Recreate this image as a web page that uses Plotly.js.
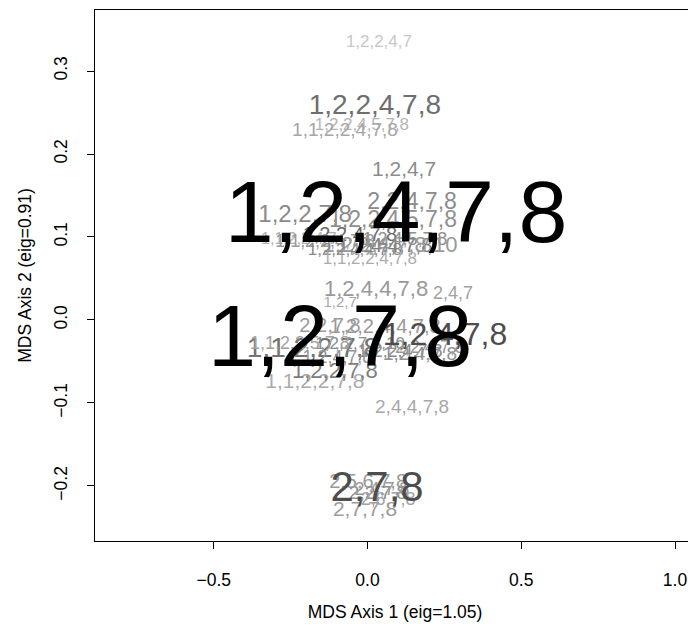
<!DOCTYPE html>
<html>
<head>
<meta charset="utf-8">
<script src="https://cdn.plot.ly/plotly-3.0.1.min.js"></script>
<style>
  html, body { margin: 0; padding: 0; background: #fff; overflow: hidden; }
  #chart { width: 720px; height: 628px; }
</style>
</head>
<body>
<div id="chart"></div>
<script>
// Genotype labels placed at their MDS coordinates
const labels = [
  "1,2,2,4,7", "1,2,2,4,7,8", "1,2,2,4,5,7,8", "1,1,2,2,4,7,8", "1,2,4,7",
  "2,2,4,7,8", "1,2,2,7,8", "1,2,2,4,5,7,8", "1,1,2,2,4,7", "1,2,2,4,7,8",
  "1,1,2,2,4,7,8", "1,2,4,4,7,8", "1,2,4,5,7,8", "1,2,2,4,7,8,10", "1,2,2,4,4,7,8",
  "1,1,2,2,4,7,8", "1,2,4,7,8",
  "1,2,4,4,7,8", "2,4,7", "1,2,7", "1,2,2,4,4,7,8", "2,2,7,8",
  "1,1,2,2,7,8", "1,1,2,2,7,8", "1,2,2,7,8", "2,4,4,7,8", "1,2,2,4,7,8",
  "1,1,2,4,7,8", "1,2,4,7,8", "1,2,2,7,8,10", "1,1,2,2,5,7,8", "2,2,4,7,8",
  "1,2,4,7,8", "1,2,7,8",
  "2,5,6,7,8", "2,2,7,8", "2,6,7,8", "2,4,7,8", "2,7,7,8", "2,7,8"
];
// MDS axis 1 scores
const axis1 = [
  0.037, 0.024, -0.018, -0.073, 0.119,
  0.145, -0.203, 0.083, -0.223, -0.057,
  -0.138, 0.057, 0.122, 0.073, -0.041,
  0.008, 0.093,
  0.028, 0.278, -0.089, 0.057, -0.122,
  -0.177, -0.171, -0.106, 0.145, 0.106,
  -0.122, 0.171, -0.024, -0.220, 0.203,
  0.252, -0.089,
  0.002, 0.034, 0.067, 0.047, -0.008, 0.031
];
// MDS axis 2 scores
const axis2 = [
  0.334, 0.257, 0.234, 0.228, 0.180,
  0.141, 0.125, 0.119, 0.096, 0.101,
  0.093, 0.088, 0.096, 0.089, 0.083,
  0.073, 0.120,
  0.036, 0.031, 0.020, -0.010, -0.008,
  -0.036, -0.076, -0.063, -0.106, -0.039,
  -0.046, -0.042, -0.030, -0.030, -0.034,
  -0.020, -0.029,
  -0.196, -0.210, -0.217, -0.206, -0.230, -0.205
];
// relative abundance of each genotype (drives label size)
const abundance = [
  1.06, 1.75, 1.06, 1.19, 1.31,
  1.44, 1.50, 1.44, 1.00, 1.25,
  1.12, 1.25, 1.12, 1.38, 1.06,
  1.06, 5.50,
  1.38, 1.12, 0.94, 1.25, 1.25,
  1.75, 1.31, 1.38, 1.19, 1.12,
  1.12, 1.19, 1.06, 1.12, 1.12,
  2.00, 5.40,
  1.25, 1.19, 1.12, 1.12, 1.31, 2.62
];
// frequency of each genotype (drives label darkness, 0 = white, 1 = black)
const frequency = [
  0.22, 0.57, 0.29, 0.35, 0.45,
  0.45, 0.46, 0.44, 0.31, 0.58,
  0.40, 0.52, 0.44, 0.40, 0.47,
  0.33, 1.00,
  0.40, 0.37, 0.34, 0.40, 0.39,
  0.55, 0.33, 0.51, 0.34, 0.46,
  0.42, 0.44, 0.45, 0.37, 0.40,
  0.70, 1.00,
  0.40, 0.44, 0.36, 0.40, 0.39, 0.70
];

const baseSize = 16;
const sizes = abundance.map(a => baseSize * a);
const colors = frequency.map(f => {
  const g = Math.round(255 * (1 - f));
  return `rgb(${g},${g},${g})`;
});

const trace = {
  type: "scatter",
  mode: "text",
  x: axis1,
  y: axis2,
  text: labels,
  textposition: "middle center",
  textfont: {
    family: "Liberation Sans, Arial, sans-serif",
    size: sizes,
    color: colors
  },
  hoverinfo: "none",
  showlegend: false,
  cliponaxis: false
};

const axisFont = { family: "Liberation Sans, Arial, sans-serif", size: 17.5, color: "#000" };

const layout = {
  width: 720,
  height: 628,
  margin: { l: 95, r: 25, t: 10, b: 87 },
  paper_bgcolor: "#fff",
  plot_bgcolor: "#fff",
  font: axisFont,
  xaxis: {
    range: [-0.886, 1.065],
    tickvals: [-0.5, 0, 0.5, 1.0],
    ticktext: ["\u22120.5", "0.0", "0.5", "1.0"],
    ticks: "outside",
    ticklen: 7,
    tickwidth: 1,
    tickcolor: "#000",
    ticklabelstandoff: 16,
    showgrid: false,
    zeroline: false,
    showline: true,
    mirror: true,
    linecolor: "#000",
    linewidth: 1,
    tickfont: axisFont,
    title: { text: "MDS Axis 1 (eig=1.05)", font: axisFont, standoff: 16 }
  },
  yaxis: {
    range: [-0.2663, 0.3735],
    tickvals: [-0.2, -0.1, 0, 0.1, 0.2, 0.3],
    ticktext: ["\u22120.2", "\u22120.1", "0.0", "0.1", "0.2", "0.3"],
    tickangle: -90,
    ticks: "outside",
    ticklen: 7,
    tickwidth: 1,
    tickcolor: "#000",
    ticklabelstandoff: 13,
    showgrid: false,
    zeroline: false,
    showline: true,
    mirror: true,
    linecolor: "#000",
    linewidth: 1,
    tickfont: axisFont,
    title: { text: "MDS Axis 2 (eig=0.91)", font: axisFont, standoff: 14 }
  }
};

Plotly.newPlot("chart", [trace], layout, { staticPlot: true, displayModeBar: false });
</script>
</body>
</html>
